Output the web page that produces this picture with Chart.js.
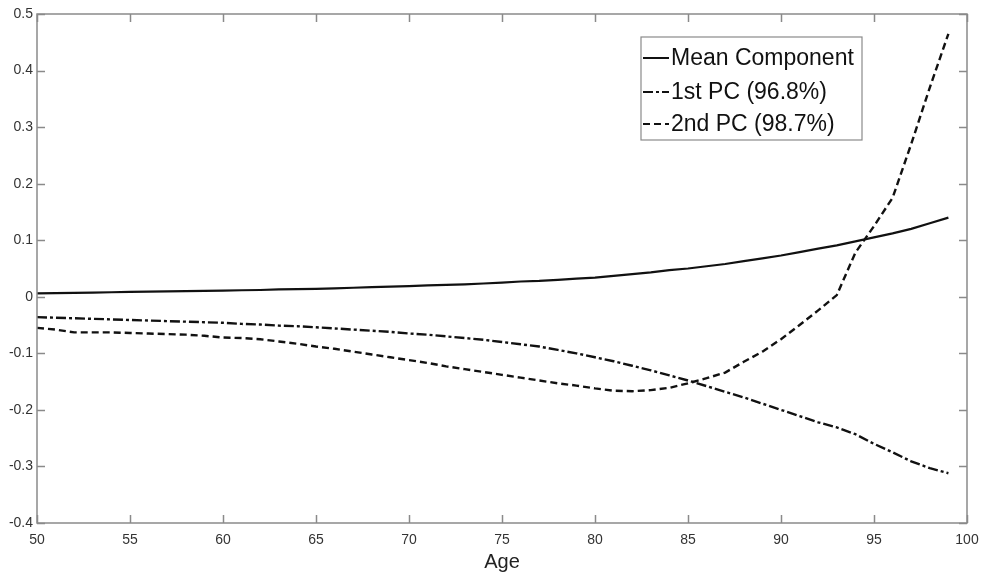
<!DOCTYPE html>
<html>
<head>
<meta charset="utf-8">
<title>Age components</title>
<script src="https://cdn.jsdelivr.net/npm/chart.js@4/dist/chart.umd.min.js"></script>
<style>
  html, body { margin: 0; padding: 0; background: #fff; }
  canvas { display: block; }
</style>
</head>
<body>
<canvas id="pcChart" width="981" height="574"></canvas>
<script>
// ages 50..99, one value per year
var ages = [];
for (var a = 50; a <= 99; a++) ages.push(a);

var meanComponent = [
    0.006, 0.0065, 0.007, 0.0075, 0.008, 0.0085, 0.009, 0.0095, 0.010, 0.0105,
    0.011, 0.0115, 0.012, 0.013, 0.0135, 0.014, 0.015, 0.016, 0.017, 0.018,
    0.019, 0.020, 0.021, 0.022, 0.0235, 0.025, 0.027, 0.028, 0.030, 0.032,
    0.034, 0.037, 0.040, 0.043, 0.047, 0.050, 0.054, 0.058, 0.063, 0.068,
    0.073, 0.079, 0.085, 0.091, 0.098, 0.105, 0.112, 0.120, 0.130, 0.140
];

var firstPC = [
    -0.036, -0.037, -0.038, -0.039, -0.040, -0.041, -0.042, -0.043, -0.044, -0.045,
    -0.046, -0.048, -0.049, -0.051, -0.052, -0.054, -0.056, -0.058, -0.060, -0.062,
    -0.065, -0.067, -0.070, -0.073, -0.076, -0.080, -0.084, -0.088, -0.094, -0.100,
    -0.107, -0.114, -0.122, -0.130, -0.139, -0.148, -0.158, -0.168, -0.178, -0.189,
    -0.200, -0.211, -0.222, -0.231, -0.243, -0.260, -0.275, -0.291, -0.303, -0.312
];

var secondPC = [
    -0.055, -0.058, -0.063, -0.063, -0.063, -0.064, -0.065, -0.066, -0.067, -0.069,
    -0.072, -0.073, -0.075, -0.079, -0.083, -0.088, -0.092, -0.097, -0.102, -0.107,
    -0.112, -0.117, -0.123, -0.128, -0.133, -0.138, -0.143, -0.148, -0.153, -0.157,
    -0.162, -0.166, -0.167, -0.165, -0.161, -0.153, -0.144, -0.134, -0.115, -0.097,
    -0.075, -0.050, -0.024, 0.003, 0.078, 0.125, 0.175, 0.270, 0.370, 0.465
];

var seriesLabels = ['Mean Component', '1st PC (96.8%)', '2nd PC (98.7%)'];

var FONT = '"Liberation Sans", Arial, Helvetica, sans-serif';
var AXIS_GRAY = '#8a8a8a';

function toPoints(values) {
    return values.map(function (v, i) { return { x: ages[i], y: v }; });
}

// box around the axes with inward tick marks on all four sides
var axesBox = {
    id: 'axesBox',
    afterDatasetsDraw: function (chart) {
        var ctx = chart.ctx;
        var area = chart.chartArea;
        var xs = chart.scales.x, ys = chart.scales.y;
        var len = 8;
        ctx.save();
        ctx.strokeStyle = AXIS_GRAY;
        ctx.lineWidth = 1.5;
        ctx.strokeRect(area.left, area.top, area.right - area.left, area.bottom - area.top);
        ctx.beginPath();
        xs.ticks.forEach(function (t) {
            var px = Math.round(xs.getPixelForValue(t.value)) + 0.5;
            ctx.moveTo(px, area.bottom); ctx.lineTo(px, area.bottom - len);
            ctx.moveTo(px, area.top); ctx.lineTo(px, area.top + len);
        });
        ys.ticks.forEach(function (t) {
            var py = Math.round(ys.getPixelForValue(t.value)) + 0.5;
            ctx.moveTo(area.left, py); ctx.lineTo(area.left + len, py);
            ctx.moveTo(area.right, py); ctx.lineTo(area.right - len, py);
        });
        ctx.stroke();
        ctx.restore();
    }
};

// boxed legend in the upper right, short line samples before each label
var boxLegend = {
    id: 'boxLegend',
    afterDraw: function (chart) {
        var ctx = chart.ctx;
        var left = 641, top = 37, width = 221, height = 103;
        var rows = [58, 92, 124];
        ctx.save();
        ctx.fillStyle = '#fff';
        ctx.fillRect(left, top, width, height);
        ctx.strokeStyle = AXIS_GRAY;
        ctx.lineWidth = 1.2;
        ctx.strokeRect(left, top, width, height);
        ctx.font = '23px ' + FONT;
        ctx.textBaseline = 'middle';
        chart.data.datasets.forEach(function (ds, i) {
            var y = rows[i];
            ctx.strokeStyle = '#111';
            ctx.lineWidth = 2;
            ctx.setLineDash(ds.borderDash || []);
            ctx.beginPath();
            ctx.moveTo(left + 2, y);
            ctx.lineTo(left + 28, y);
            ctx.stroke();
            ctx.setLineDash([]);
            ctx.fillStyle = '#111';
            ctx.fillText(ds.label, left + 30, y + 1);
        });
        ctx.restore();
    }
};

new Chart(document.getElementById('pcChart').getContext('2d'), {
    type: 'line',
    data: {
        datasets: [{
            label: seriesLabels[0],
            data: toPoints(meanComponent),
            borderColor: '#111',
            borderWidth: 2.2,
            pointRadius: 0,
            fill: false
        }, {
            label: seriesLabels[1],
            data: toPoints(firstPC),
            borderColor: '#111',
            borderWidth: 2.4,
            borderDash: [10, 3, 3, 3],
            pointRadius: 0,
            fill: false
        }, {
            label: seriesLabels[2],
            data: toPoints(secondPC),
            borderColor: '#111',
            borderWidth: 2.4,
            borderDash: [7, 4],
            pointRadius: 0,
            fill: false
        }]
    },
    options: {
        responsive: false,
        animation: false,
        devicePixelRatio: 1,
        layout: { padding: { top: 14, right: 14, left: 0, bottom: 0 } },
        plugins: {
            legend: { display: false },
            tooltip: { enabled: false }
        },
        scales: {
            x: {
                type: 'linear',
                min: 50,
                max: 100,
                grid: { display: false, drawTicks: false },
                border: { display: false },
                ticks: {
                    stepSize: 5,
                    padding: 9,
                    color: '#333',
                    font: { family: FONT, size: 14 },
                    maxRotation: 0
                },
                title: {
                    display: true,
                    text: 'Age',
                    color: '#222',
                    font: { family: FONT, size: 20 },
                    padding: { top: 0, bottom: 0 }
                },
                afterFit: function (scale) {
                    scale.height = 51;
                    // let the end labels hang past the plot edges
                    scale.paddingLeft = 0;
                    scale.paddingRight = 0;
                }
            },
            y: {
                min: -0.4,
                max: 0.5,
                grid: { display: false, drawTicks: false },
                border: { display: false },
                ticks: {
                    stepSize: 0.1,
                    padding: 4,
                    color: '#333',
                    font: { family: FONT, size: 14 },
                    callback: function (v) { return String(Math.round(v * 10) / 10); }
                },
                afterFit: function (scale) {
                    scale.width = 37;
                    scale.paddingTop = 0;
                    scale.paddingBottom = 0;
                }
            }
        }
    },
    plugins: [axesBox, boxLegend]
});
</script>
</body>
</html>
